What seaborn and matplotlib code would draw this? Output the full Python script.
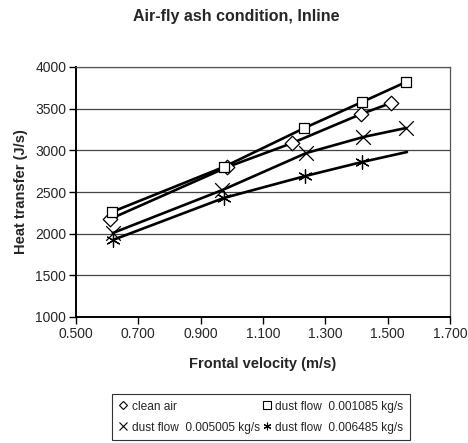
import numpy as np
import pandas as pd
import matplotlib
matplotlib.use("Agg")
import matplotlib.pyplot as plt
from matplotlib.lines import Line2D
import seaborn as sns

# data
series_names = ["clean air", "dust flow  0.001085 kg/s",
                "dust flow  0.005005 kg/s", "dust flow  0.006485 kg/s"]
clean_x = [0.609, 0.986, 1.194, 1.415, 1.511]
clean_y = [2175, 2800, 3088, 3436, 3568]
d1085_x = [0.615, 0.974, 1.233, 1.418, 1.559]
d1085_y = [2260, 2800, 3268, 3580, 3820]
d5005_x = [0.618, 0.970, 1.239, 1.422, 1.559]
d5005_y = [2008, 2524, 2968, 3160, 3268]
d6485_x = [0.618, 0.974, 1.236, 1.418, 1.562]
d6485_y = [1924, 2428, 2692, 2860, 2980]
# last point of the 0.006485 series is drawn without a marker
d6485_marked = [True, True, True, True, False]

x_ticks = [0.5, 0.7, 0.9, 1.1, 1.3, 1.5, 1.7]
y_ticks = [1000, 1500, 2000, 2500, 3000, 3500, 4000]

rows = []
for name, xs, ys, mk in [(series_names[0], clean_x, clean_y, [True] * 5),
                         (series_names[1], d1085_x, d1085_y, [True] * 5),
                         (series_names[2], d5005_x, d5005_y, [True] * 5),
                         (series_names[3], d6485_x, d6485_y, d6485_marked)]:
    for xv, yv, m in zip(xs, ys, mk):
        rows.append({"series": name, "velocity": xv, "heat": yv, "marked": m})
df = pd.DataFrame(rows)

sns.set_style("white")
plt.rcParams['font.family'] = ['Liberation Sans', 'DejaVu Sans']

fig = plt.figure(figsize=(4.68, 4.43), dpi=100)
ax = fig.add_axes([76 / 468, 1 - 317 / 443, 374 / 468, 250 / 443])

black = {n: "black" for n in series_names}
sns.lineplot(data=df, x="velocity", y="heat", hue="series", palette=black,
             sort=True, linewidth=1.9, legend=False, ax=ax, zorder=3)

markers = {series_names[0]: "D", series_names[1]: "s",
           series_names[2]: "x", series_names[3]: (6, 2, 0)}
sizes = {series_names[0]: 55, series_names[1]: 58,
         series_names[2]: 110, series_names[3]: 95}
for name in series_names:
    sub = df[(df.series == name) & df.marked]
    filled = markers[name] in ("D", "s")
    sns.scatterplot(data=sub, x="velocity", y="heat", marker=markers[name],
                    s=sizes[name],
                    facecolor="white" if filled else "black",
                    edgecolor="black", linewidth=0.9, legend=False, ax=ax,
                    zorder=4)

ax.set_xlim(0.5, 1.7)
ax.set_ylim(1000, 4000)
ax.set_xticks(x_ticks)
ax.set_xticklabels([f"{t:.3f}" for t in x_ticks])
ax.set_yticks(y_ticks)
ax.yaxis.grid(True, color="#444444", linewidth=0.9)
ax.set_axisbelow(True)
ax.tick_params(axis="both", direction="out", length=5, width=1,
               labelsize=10, color="black", bottom=True, left=True, pad=2)
for side in ["left", "bottom"]:
    ax.spines[side].set_color("black")
    ax.spines[side].set_linewidth(1.4)
for side in ["top", "right"]:
    ax.spines[side].set_color("#555555")
    ax.spines[side].set_linewidth(0.9)

ax.set_xlabel("Frontal velocity (m/s)", fontsize=10.5, fontweight="bold",
              labelpad=12)
ax.set_ylabel("Heat transfer (J/s)", fontsize=10.5, fontweight="bold",
              labelpad=5)
fig.text(236 / 468, 1 - 16 / 443, "Air-fly ash condition, Inline",
         ha="center", va="center", fontsize=11.5, fontweight="bold")

handles = {}
for name in series_names:
    m = markers[name]
    handles[name] = Line2D([], [], linestyle="none", marker=m,
                           markersize=5.5 if m != "D" else 4.5,
                           markerfacecolor="white" if m in ("D", "s") else "black",
                           markeredgecolor="black", markeredgewidth=0.8,
                           label=name)
# legend fills column by column; reference reads row by row
order = [series_names[0], series_names[2], series_names[1], series_names[3]]
leg = fig.legend(handles=[handles[n] for n in order], ncol=2,
                 loc="upper center", bbox_to_anchor=(261 / 468, 1 - 394 / 443),
                 fontsize=8.6, frameon=True, fancybox=False, edgecolor="black",
                 handlelength=0.7, handletextpad=0.35, columnspacing=0.25,
                 borderpad=0.55, labelspacing=0.75, borderaxespad=0)
leg.get_frame().set_linewidth(0.8)

fig.savefig("out.png", dpi=100)
plt.close(fig)
